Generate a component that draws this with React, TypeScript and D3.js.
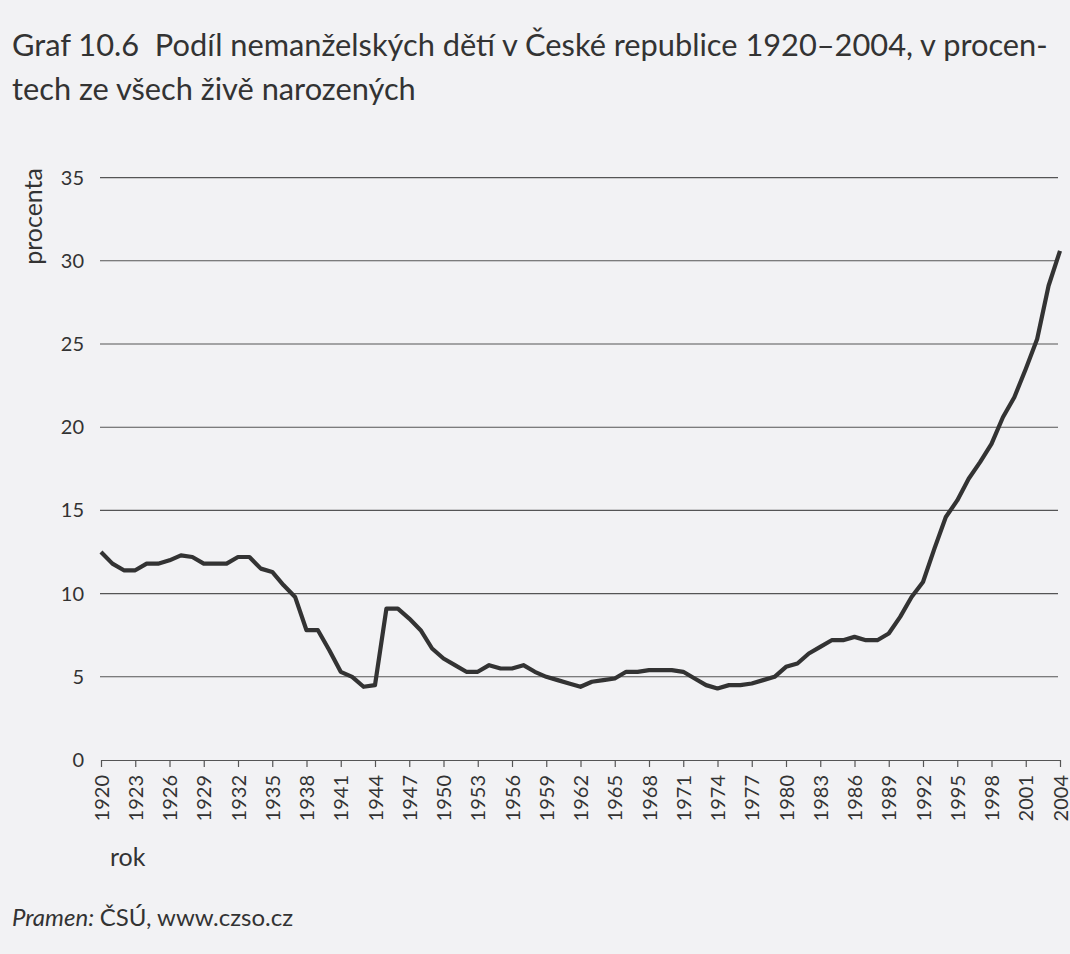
import { useEffect, useRef } from 'react'
import * as d3 from 'd3'

// podíl nemanželských dětí, % ze všech živě narozených
const years: number[] = d3.range(1920, 2005)
const shares: number[] = [
  12.5, 11.8, 11.4, 11.4, 11.8, 11.8, 12.0, 12.3, 12.2, 11.8,
  11.8, 11.8, 12.2, 12.2, 11.5, 11.3, 10.5, 9.8, 7.8, 7.8,
  6.6, 5.3, 5.0, 4.4, 4.5, 9.1, 9.1, 8.5, 7.8, 6.7,
  6.1, 5.7, 5.3, 5.3, 5.7, 5.5, 5.5, 5.7, 5.3, 5.0,
  4.8, 4.6, 4.4, 4.7, 4.8, 4.9, 5.3, 5.3, 5.4, 5.4,
  5.4, 5.3, 4.9, 4.5, 4.3, 4.5, 4.5, 4.6, 4.8, 5.0,
  5.6, 5.8, 6.4, 6.8, 7.2, 7.2, 7.4, 7.2, 7.2, 7.6,
  8.6, 9.8, 10.7, 12.7, 14.6, 15.6, 16.9, 17.9, 19.0, 20.6,
  21.8, 23.5, 25.3, 28.5, 30.6,
]
const yTicks: number[] = [0, 5, 10, 15, 20, 25, 30, 35]
const xTicks: number[] = d3.range(1920, 2005, 3)

const titleLines = [
  'Graf 10.6  Podíl nemanželských dětí v České republice 1920–2004, v procen-',
  'tech ze všech živě narozených',
]

const W = 1070
const H = 954
const FONT = 'Lato, "Open Sans", sans-serif'
const INK = '#333'

export default function App() {
  const svgRef = useRef<SVGSVGElement>(null)

  useEffect(() => {
    if (!svgRef.current) return
    const svg = d3.select(svgRef.current)
    svg.selectAll('*').remove()

    svg.append('rect').attr('width', W).attr('height', H).attr('fill', '#f2f2f4')

    const x = d3.scaleLinear().domain([1920, 2004]).range([101, 1060])
    const y = d3.scaleLinear().domain([0, 35]).range([760, 177.6])

    // title, sized so the first line fits the chart width
    const t1 = svg
      .append('text')
      .attr('x', 12)
      .attr('y', 56)
      .attr('font-family', FONT)
      .attr('font-size', 30)
      .attr('fill', INK)
      .style('white-space', 'pre')
      .text(titleLines[0])
    const w1 = (t1.node() as SVGTextElement).getComputedTextLength()
    const fs = w1 > 0 ? Math.min(33, (30 * 1036) / w1) : 29
    t1.attr('font-size', fs)
    svg
      .append('text')
      .attr('x', 12)
      .attr('y', 100)
      .attr('font-family', FONT)
      .attr('font-size', fs)
      .attr('fill', INK)
      .text(titleLines[1])

    // gridlines
    svg
      .append('g')
      .selectAll('line')
      .data(yTicks.filter((t) => t > 0))
      .enter()
      .append('line')
      .attr('x1', 100)
      .attr('x2', 1058)
      .attr('y1', (d) => y(d))
      .attr('y2', (d) => y(d))
      .attr('stroke', '#555')
      .attr('stroke-width', 1.1)

    // y labels
    svg
      .append('g')
      .selectAll('text')
      .data(yTicks)
      .enter()
      .append('text')
      .attr('x', 84)
      .attr('y', (d) => y(d))
      .attr('dy', '0.35em')
      .attr('text-anchor', 'end')
      .attr('font-family', FONT)
      .attr('font-size', 20)
      .attr('fill', INK)
      .text((d) => d)

    svg
      .append('text')
      .attr('transform', 'translate(42,168) rotate(-90)')
      .attr('text-anchor', 'end')
      .attr('font-family', FONT)
      .attr('font-size', 25)
      .attr('fill', INK)
      .text('procenta')

    // x axis
    const xAxis = d3
      .axisBottom(x)
      .tickValues(xTicks.concat([2004]).filter((v, i, a) => a.indexOf(v) === i))
      .tickSize(7)
      .tickSizeOuter(0)
      .tickFormat((d) => String(d))
    const gx = svg.append('g').attr('transform', `translate(0,${y(0)})`).call(xAxis)
    gx.select('.domain').attr('stroke', '#555').attr('stroke-width', 1.2)
    gx.selectAll('.tick line').attr('stroke', '#555').attr('stroke-width', 1.2)
    gx.selectAll('.tick text')
      .attr('font-family', FONT)
      .attr('font-size', 20)
      .attr('fill', INK)
      .attr('transform', 'rotate(-90)')
      .attr('text-anchor', 'end')
      .attr('x', -15)
      .attr('y', 0)
      .attr('dy', '0.35em')

    svg
      .append('text')
      .attr('x', 110)
      .attr('y', 866)
      .attr('font-family', FONT)
      .attr('font-size', 25)
      .attr('fill', INK)
      .text('rok')

    // line
    const line = d3
      .line<number>()
      .x((_, i) => x(years[i]))
      .y((d) => y(d))
    svg
      .append('path')
      .datum(shares)
      .attr('d', line)
      .attr('fill', 'none')
      .attr('stroke', '#333')
      .attr('stroke-width', 4.2)
      .attr('stroke-linejoin', 'round')

    // source
    const src = svg
      .append('text')
      .attr('x', 12)
      .attr('y', 926)
      .attr('font-family', FONT)
      .attr('font-size', 24)
      .attr('fill', INK)
    src.append('tspan').attr('font-style', 'italic').text('Pramen: ')
    src.append('tspan').text('ČSÚ, www.czso.cz')
  }, [])

  return (
    <svg
      ref={svgRef}
      width={W}
      height={H}
      style={{ position: 'absolute', left: 0, top: 0, display: 'block' }}
    />
  )
}
